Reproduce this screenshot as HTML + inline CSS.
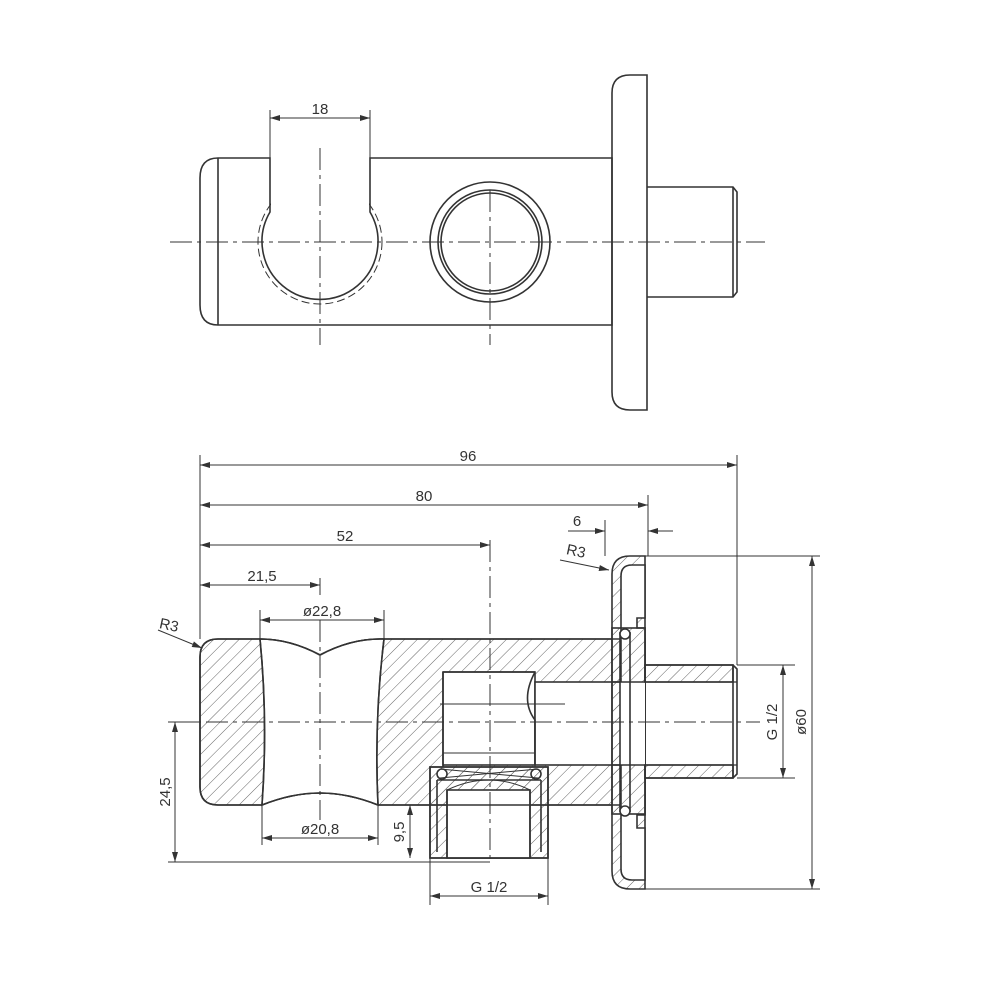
<!DOCTYPE html>
<html><head><style>html,body{margin:0;padding:0;background:#fff}svg{display:block}</style></head>
<body>
<svg width="1000" height="1000" viewBox="0 0 1000 1000" xmlns="http://www.w3.org/2000/svg" font-family="Liberation Sans, sans-serif" font-size="15" fill="none" stroke="#333" stroke-width="1.6">
<defs>
<pattern id="h" width="9" height="9" patternUnits="userSpaceOnUse" patternTransform="rotate(45)">
<line x1="0" y1="0" x2="0" y2="9" stroke="#666" stroke-width="1"/>
</pattern>
<marker id="a" viewBox="0 0 10 6" refX="10" refY="3" markerWidth="10" markerHeight="6" orient="auto-start-reverse" markerUnits="userSpaceOnUse"><path d="M0,0 L10,3 L0,6z" fill="#333" stroke="none"/></marker>
</defs>

<!-- TOP VIEW -->
<g>
<circle cx="320" cy="242" r="62" stroke-dasharray="8,4" stroke-width="1"/>
<rect x="271" y="150" width="98" height="62" fill="#fff" stroke="none"/>
<path d="M218,158 L270,158 L270,212 A58,58 0 1 0 370,212 L370,158 L612,158 L612,325 L218,325 Q200,325 200,305 L200,178 Q200,158 218,158 Z"/>
<line x1="218" y1="158" x2="218" y2="325"/>
<circle cx="490" cy="242" r="60"/>
<circle cx="490" cy="242" r="52"/>
<circle cx="490" cy="242" r="49"/>
<path d="M630,75 L647,75 L647,410 L630,410 Q612,410 612,392 L612,93 Q612,75 630,75 Z"/>
<path d="M647,187 L733,187 L737,192 L737,292 L733,297 L647,297 M733,187 L733,297"/>
<g stroke-width="1" stroke-dasharray="22,5,4,5">
<line x1="170" y1="242" x2="765" y2="242"/>
<line x1="320" y1="148" x2="320" y2="345"/>
<line x1="490" y1="190" x2="490" y2="345"/>
</g>
<g stroke-width="1">
<line x1="270" y1="110" x2="270" y2="158"/><line x1="370" y1="110" x2="370" y2="158"/>
<line x1="270" y1="118" x2="370" y2="118" marker-start="url(#a)" marker-end="url(#a)"/>
</g>
<text x="320" y="114" fill="#333" stroke="none" text-anchor="middle">18</text>
</g>

<!-- SECTION VIEW -->
<g>
<path d="M218,639 L260,639 Q290,639 320,655 Q350,639 380,639 L645,639 L645,805 L378,805 Q348,793 320,793 Q292,793 262,805 L218,805 Q200,805 200,787 L200,657 Q200,639 218,639 Z" fill="url(#h)"/>
<path d="M260,639 Q290,639 320,655 Q350,639 380,639 L384,639 Q374,720 378,805 Q348,793 320,793 Q292,793 262,805 Q268,720 260,639 Z" fill="#fff"/>
<rect x="443" y="672" width="92" height="93" fill="#fff"/>
<rect x="535" y="682" width="110" height="83" fill="#fff"/>
<path d="M535,672 Q520,700 535,720 L535,765" />
<line x1="440" y1="704" x2="565" y2="704" stroke-width="1"/>
<rect x="430" y="767" width="118" height="91" fill="url(#h)"/>
<rect x="447" y="790" width="83" height="68" fill="#fff"/>
<path d="M430,767 L548,767 L548,858 L430,858 Z M437,780 L541,780 M447,790 L447,858 M530,790 L530,858 M437,780 L437,852 M541,780 L541,852"/>
<path d="M440,769 L538,778 M440,778 L538,769 M447,790 Q489,770 530,790" stroke-width="1"/>
<circle cx="442" cy="774" r="5"/><circle cx="536" cy="774" r="5"/>
<path d="M443,753 L535,753 L535,767 L443,767 Z" stroke-width="1"/>
<path d="M630,556 L645,556 L645,889 L630,889 Q612,889 612,871 L612,574 Q612,556 630,556 Z" fill="url(#h)"/>
<path d="M632,565 L645,565 L645,618 L637,618 L637,628 L645,628 L645,815 L637,815 L637,828 L645,828 L645,880 L632,880 Q621,880 621,869 L621,576 Q621,565 632,565 Z" fill="#fff"/>
<path d="M632,565 L645,565 L645,618 L637,618 L637,628 L645,628 L645,815 L637,815 L637,828 L645,828 L645,880 L632,880 Q621,880 621,869 L621,576 Q621,565 632,565 Z" stroke-width="1"/>
<rect x="612" y="628" width="33" height="186" fill="url(#h)"/>
<rect x="620" y="682" width="25" height="83" fill="#fff" stroke="none"/>
<path d="M620,632 L620,812 M630,632 L630,812" />
<circle cx="625" cy="634" r="5" fill="#fff"/><circle cx="625" cy="811" r="5" fill="#fff"/>
<path d="M612,682 L645,682 M612,765 L645,765"/>
<rect x="645" y="665" width="88" height="17" fill="url(#h)"/>
<rect x="645" y="765" width="88" height="13" fill="url(#h)"/>
<path d="M645,665 L733,665 L737,669 L737,774 L733,778 L645,778 M733,665 L733,778"/>
<path d="M645,682 L737,682 M645,765 L737,765" stroke-width="1.2"/>
<path d="M218,639 L260,639 M380,639 L612,639 M612,805 L430,805 M378,805 Q348,793 320,793 Q292,793 262,805 M260,639 Q290,639 320,655 Q350,639 380,639 M218,805 Q200,805 200,787 L200,657 Q200,639 218,639 M218,805 L262,805 M260,639 Q268,720 262,805 M384,639 Q374,720 378,805 M378,805 L430,805"/>
<path d="M443,672 L535,672 M443,672 L443,767"/>
<g stroke-width="1" stroke-dasharray="22,5,4,5">
<line x1="170" y1="722" x2="760" y2="722"/>
<line x1="320" y1="620" x2="320" y2="820"/>
<line x1="490" y1="540" x2="490" y2="862"/>
</g>
<g stroke-width="1">
<line x1="200" y1="455" x2="200" y2="639"/>
<line x1="737" y1="455" x2="737" y2="665"/>
<line x1="648" y1="495" x2="648" y2="556"/>
<line x1="605" y1="520" x2="605" y2="556"/>
<line x1="200" y1="465" x2="737" y2="465" marker-start="url(#a)" marker-end="url(#a)"/>
<line x1="200" y1="505" x2="648" y2="505" marker-start="url(#a)" marker-end="url(#a)"/>
<line x1="200" y1="545" x2="490" y2="545" marker-start="url(#a)" marker-end="url(#a)"/>
<line x1="200" y1="585" x2="320" y2="585" marker-start="url(#a)" marker-end="url(#a)"/>
<line x1="320" y1="578" x2="320" y2="595"/>
<line x1="568" y1="531" x2="605" y2="531" marker-end="url(#a)"/>
<line x1="673" y1="531" x2="648" y2="531" marker-end="url(#a)"/>
<line x1="260" y1="610" x2="260" y2="639"/><line x1="384" y1="610" x2="384" y2="639"/>
<line x1="260" y1="620" x2="384" y2="620" marker-start="url(#a)" marker-end="url(#a)"/>
<line x1="262" y1="805" x2="262" y2="845"/><line x1="378" y1="805" x2="378" y2="845"/>
<line x1="262" y1="838" x2="378" y2="838" marker-start="url(#a)" marker-end="url(#a)"/>
<line x1="168" y1="722" x2="200" y2="722"/>
<line x1="168" y1="862" x2="490" y2="862"/>
<line x1="175" y1="722" x2="175" y2="862" marker-start="url(#a)" marker-end="url(#a)"/>
<line x1="398" y1="805" x2="430" y2="805"/>
<line x1="410" y1="805" x2="410" y2="858" marker-start="url(#a)" marker-end="url(#a)"/>
<line x1="430" y1="858" x2="430" y2="905"/><line x1="548" y1="858" x2="548" y2="905"/>
<line x1="430" y1="896" x2="548" y2="896" marker-start="url(#a)" marker-end="url(#a)"/>
<line x1="737" y1="665" x2="795" y2="665"/><line x1="737" y1="778" x2="795" y2="778"/>
<line x1="783" y1="665" x2="783" y2="778" marker-start="url(#a)" marker-end="url(#a)"/>
<line x1="645" y1="556" x2="820" y2="556"/><line x1="645" y1="889" x2="820" y2="889"/>
<line x1="812" y1="556" x2="812" y2="889" marker-start="url(#a)" marker-end="url(#a)"/>
<line x1="158" y1="630" x2="202" y2="648" marker-end="url(#a)"/>
<line x1="560" y1="560" x2="609" y2="570" marker-end="url(#a)"/>
</g>
<g fill="#333" stroke="none" text-anchor="middle">
<text x="468" y="461">96</text>
<text x="424" y="501">80</text>
<text x="345" y="541">52</text>
<text x="262" y="581">21,5</text>
<text x="577" y="526">6</text>
<text x="322" y="616">ø22,8</text>
<text x="320" y="834">ø20,8</text>
<text x="489" y="892">G 1/2</text>
<text x="168" y="630" transform="rotate(12 168 630)">R3</text>
<text x="575" y="556" transform="rotate(12 575 556)">R3</text>
<text transform="translate(170,792) rotate(-90)">24,5</text>
<text transform="translate(404,832) rotate(-90)">9,5</text>
<text transform="translate(777,722) rotate(-90)">G 1/2</text>
<text transform="translate(806,722) rotate(-90)">ø60</text>
</g>
</g>
</svg>
</body></html>
